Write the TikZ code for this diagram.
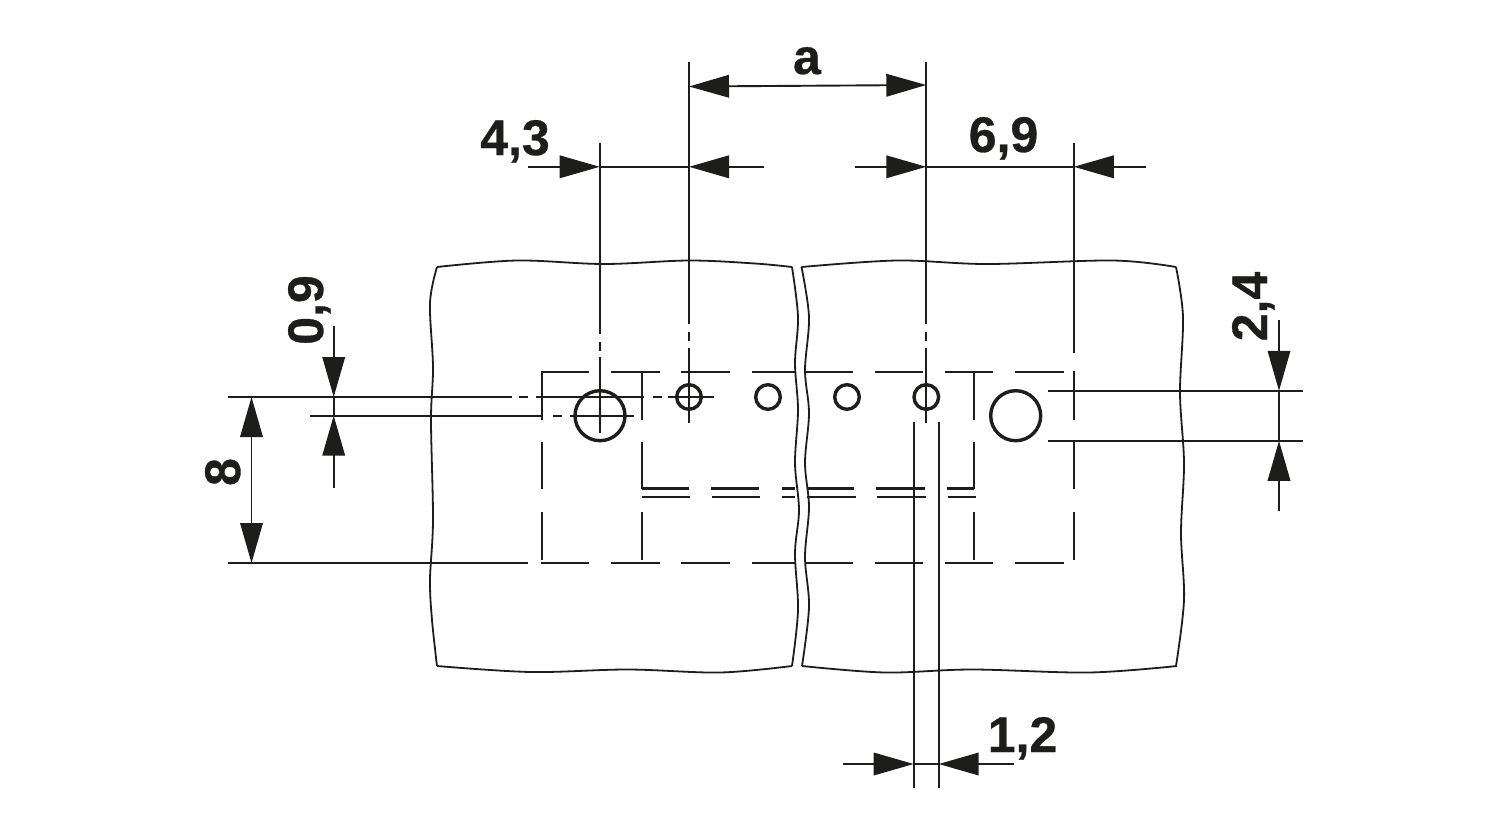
\documentclass[tikz,border=0pt]{standalone}
\usepackage{fontspec}
\setmainfont[BoldFeatures={FakeBold=0.6}]{Liberation Sans}
\usetikzlibrary{arrows.meta}
\definecolor{ink}{HTML}{1D1D1B}
\tikzset{
  outline/.style={draw=ink,line width=1.8pt,line join=miter},
  dimline/.style={draw=ink,line width=1.9pt},
  hiddenline/.style={draw=ink,line width=2.3pt},
  hole/.style={draw=ink,line width=3.4pt},
  tipped/.style={dimline,-{Triangle[length=40pt,width=22.5pt,fill=ink]}},
  dimtext/.style={text=ink,font=\fontsize{50}{50}\selectfont\bfseries,inner sep=0pt,anchor=base},
  sm/.style={smooth,tension=.55}
}
\begin{document}
\begin{tikzpicture}[x=1pt,y=-1pt]
\useasboundingbox[fill=white] (0,0) rectangle (1500,820);
% left panel
\draw[outline] plot[sm] coordinates {(437,267) (517,260.5) (604,264) (689,260.5) (755,263.5) (792,267)};
\draw[outline] plot[sm] coordinates {(792,267) (798,317) (795,363) (798,410) (795,463) (799,510) (795,553) (798,610) (792,666)};
\draw[outline] plot[sm] coordinates {(437,666) (531,672) (628,669.5) (720,672.5) (792,666)};
\draw[outline] plot[sm] coordinates {(437,267) (430,303) (433,367) (431,420) (433,520) (430,580) (432,620) (437,666)};
% right panel
\draw[outline] plot[sm] coordinates {(801.5,267) (897,260.5) (987,264) (1113,260.5) (1176,267)};
\draw[outline] plot[sm] coordinates {(801.5,267) (809,317) (805,370) (809,413) (805,463) (809,507) (805,557) (809,607) (802,666)};
\draw[outline] plot[sm] coordinates {(802,666) (885,672.5) (972,669.5) (1089,672.5) (1177,666)};
\draw[outline] plot[sm] coordinates {(1176,267) (1183,317) (1180,393) (1184,463) (1181,533) (1184,600) (1176,666)};
% hidden outline: horizontals
\foreach \a/\b in {541/589,611/660,681/730,752/795,805/853,875/923,945/993,1015/1064}{
  \draw[hiddenline] (\a,372) -- (\b,372);
  \draw[hiddenline] (\a,563) -- (\b,563);
}
\draw[hiddenline] (642,488.4) -- (689,488.4) (711,488.4) -- (759,488.4) (782,488.4) -- (795,488.4)
  (807,488.4) -- (854,488.4) (876,488.4) -- (925,488.4) (947,488.4) -- (974,488.4);
\draw[hiddenline] (642,496.7) -- (690,496.7) (712,496.7) -- (760,496.7) (782,496.7) -- (795,496.7)
  (807,496.7) -- (856,496.7) (877,496.7) -- (926,496.7) (948,496.7) -- (976,496.7);
% hidden outline: verticals
\foreach \x in {541.7,641.7,974,1073.8}{
  \draw[hiddenline] (\x,371) -- (\x,419.5) (\x,442) -- (\x,489) (\x,512) -- (\x,560);
}
% holes
\draw[hole] (600,415.7) circle[radius=25];
\draw[hole] (1015.7,415.7) circle[radius=25];
\foreach \x in {689,768,847,926.3}{\draw[hole] (\x,397) circle[radius=12.3];}
% centre and extension lines
\coordinate (e43) at (599.7,143);
\coordinate (eL) at (689,62);
\coordinate (eR) at (926.3,62);
\coordinate (e69) at (1073.8,143);
\draw[dimline] (e43) -- (599.7,334) (599.7,342) -- (599.7,351) (599.7,357) -- (599.7,433);
\draw[dimline] (eL) -- (689,324) (689,332) -- (689,341) (689,348) -- (689,423);
\draw[dimline] (eR) -- (926.3,324) (926.3,332) -- (926.3,341) (926.3,348) -- (926.3,423);
\draw[dimline] (e69) -- (1073.8,353);
\draw[dimline] (227.5,397) -- (512,397) (519,397) -- (528,397) (536,397) -- (644,397) (653,397) -- (662,397) (668,397) -- (714,397);
\draw[dimline] (310,415.7) -- (541.5,415.7) (553,415.7) -- (562,415.7) (570,415.7) -- (634,415.7);
\draw[dimline] (227.5,563) -- (528,563);
\draw[dimline] (1048,390.8) -- (1303,390.8) (1048,440.8) -- (1303,440.8);
\draw[dimline] (913.7,422) -- (913.7,788) (938.7,422) -- (938.7,788);
% dimension a
\coordinate (aL) at (689,86.5); \coordinate (aR) at (926.3,85);
\draw[tipped,{Triangle[length=40pt,width=22.5pt,fill=ink]}-{Triangle[length=40pt,width=22.5pt,fill=ink]}] (aL) -- (aR);
% dimension 4,3
\coordinate (d1) at (527.6,166.8); \coordinate (d2) at (599.7,166.8); \coordinate (d3) at (689,166.8); \coordinate (d4) at (764,166.8);
\draw[tipped] (d1) -- (d2);
\draw[tipped] (d4) -- (d3);
\draw[dimline] (d2) -- (d3);
% dimension 6,9
\coordinate (d5) at (855,166.8); \coordinate (d6) at (926.3,166.8); \coordinate (d7) at (1073.8,166.8); \coordinate (d8) at (1146,166.8);
\draw[tipped] (d5) -- (d6);
\draw[tipped] (d8) -- (d7);
\draw[dimline] (d6) -- (d7);
% dimension 1,2
\coordinate (d9) at (843,764); \coordinate (d10) at (913.7,764); \coordinate (d11) at (938.7,764); \coordinate (d12) at (1014,764);
\draw[tipped] (d9) -- (d10);
\draw[tipped] (d12) -- (d11);
\draw[dimline] (d10) -- (d11);
% dimension 8
\coordinate (v1) at (251.5,397); \coordinate (v2) at (251.5,563);
\draw[tipped,{Triangle[length=40pt,width=22.5pt,fill=ink]}-{Triangle[length=40pt,width=22.5pt,fill=ink]}] (v1) -- (v2);
% dimension 0,9
\coordinate (v3) at (333.7,326); \coordinate (v4) at (333.7,397); \coordinate (v5) at (333.7,415.7); \coordinate (v6) at (333.7,488);
\draw[tipped] (v3) -- (v4);
\draw[tipped] (v6) -- (v5);
\draw[dimline] (v4) -- (v5);
% dimension 2,4
\coordinate (v7) at (1279,320); \coordinate (v8) at (1279,390.8); \coordinate (v9) at (1279,440.8); \coordinate (v10) at (1279,511);
\draw[tipped] (v7) -- (v8);
\draw[tipped] (v10) -- (v9);
\draw[dimline] (v8) -- (v9);
% labels
\node[dimtext] (la) at (807,74) {a};
\node[dimtext] (l43) at (515,155) {4,3};
\node[dimtext] (l69) at (1003.5,152) {6,9};
\node[dimtext] (l12) at (1022.5,752) {1,2};
\node[dimtext,rotate=90] (l8) at (240,472) {8};
\node[dimtext,rotate=90] (l09) at (323,310) {0,9};
\node[dimtext,rotate=90] (l24) at (1267,306.5) {2,4};
\end{tikzpicture}
\end{document}
